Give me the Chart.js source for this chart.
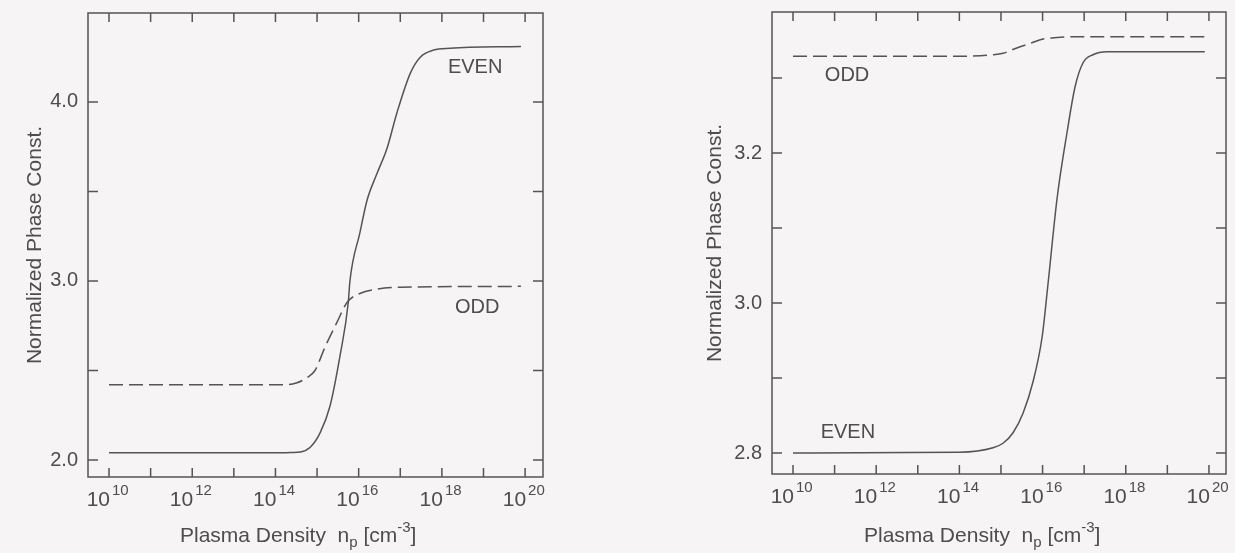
<!DOCTYPE html>
<html>
<head>
<meta charset="utf-8">
<script src="https://cdn.jsdelivr.net/npm/chart.js@4.4.1/dist/chart.umd.min.js"></script>
<style>
  html, body { margin: 0; padding: 0; background: #f6f4f4; }
  #wrap { position: relative; width: 1235px; height: 553px; overflow: hidden; }
  canvas { position: absolute; top: 0; }
</style>
</head>
<body>
<div id="wrap">
  <canvas id="leftChart" width="617" height="553" style="left:0"></canvas>
  <canvas id="rightChart" width="618" height="553" style="left:617px"></canvas>
</div>
<script>
// ================================
// DATA (x = log10 of plasma density)
// ================================
const leftEvenExp = [10, 14.0, 14.4, 14.6, 14.83, 15.07, 15.31, 15.55, 15.75, 15.79, 16.03, 16.2, 16.44, 16.68, 16.92, 17.24, 17.48, 17.8, 18.2, 19.9];
const leftEvenVal = [2.04, 2.04, 2.042, 2.045, 2.07, 2.15, 2.30, 2.58, 2.88, 3.0, 3.27, 3.45, 3.60, 3.74, 3.94, 4.16, 4.25, 4.29, 4.30, 4.31];

const leftOddExp = [10, 14.2, 14.5, 14.76, 14.95, 15.19, 15.48, 15.72, 16.03, 16.44, 17.0, 19.9];
const leftOddVal = [2.42, 2.42, 2.43, 2.46, 2.50, 2.63, 2.77, 2.88, 2.93, 2.955, 2.965, 2.97];

const rightEvenExp = [10, 14.0, 14.81, 15.05, 15.29, 15.53, 15.77, 15.99, 16.13, 16.35, 16.59, 16.78, 16.97, 17.21, 17.55, 19.9];
const rightEvenVal = [2.80, 2.801, 2.807, 2.813, 2.827, 2.853, 2.895, 2.955, 3.025, 3.14, 3.228, 3.288, 3.32, 3.331, 3.335, 3.335];

const rightOddExp = [10, 14.0, 14.81, 15.05, 15.38, 15.70, 16.01, 16.35, 16.83, 19.9];
const rightOddVal = [3.329, 3.329, 3.331, 3.333, 3.34, 3.346, 3.352, 3.354, 3.355, 3.355];

// ticks
const xTickExps = [10, 11, 12, 13, 14, 15, 16, 17, 18, 19, 20];
const xLabelExps = [10, 12, 14, 16, 18, 20];
const leftYTicks = [2.0, 2.5, 3.0, 3.5, 4.0];
const leftYLabels = [2.0, 3.0, 4.0];
const rightYTicks = [2.8, 2.9, 3.0, 3.1, 3.2, 3.3];
const rightYLabels = [2.8, 3.0, 3.2];

const INK = "#555353";
const TEXT = "#4e4c4c";
const FONT = "'Liberation Sans', Arial, sans-serif";

function toPoints(xs, ys) {
  return xs.map((x, i) => ({ x: x, y: ys[i] }));
}

// ================================
// FRAME / AXES PLUGIN
// ================================
const framePlugin = {
  id: "frame",
  afterDatasetsDraw(chart, args, opts) {
    const { ctx, chartArea: a, scales: { x, y } } = chart;
    ctx.save();

    // box
    ctx.strokeStyle = INK;
    ctx.lineWidth = 1.5;
    ctx.strokeRect(a.left, a.top, a.right - a.left, a.bottom - a.top);

    // inward ticks on all four sides
    ctx.beginPath();
    xTickExps.forEach(e => {
      const px = x.getPixelForValue(e);
      ctx.moveTo(px, a.bottom); ctx.lineTo(px, a.bottom - 9);
      ctx.moveTo(px, a.top); ctx.lineTo(px, a.top + 9);
    });
    opts.yTicks.forEach(v => {
      const py = y.getPixelForValue(v);
      ctx.moveTo(a.left, py); ctx.lineTo(a.left + 10, py);
      ctx.moveTo(a.right, py); ctx.lineTo(a.right - 10, py);
    });
    ctx.stroke();

    ctx.fillStyle = TEXT;

    // x tick labels 10^n
    ctx.textBaseline = "alphabetic";
    xLabelExps.forEach(e => {
      const px = x.getPixelForValue(e);
      ctx.font = "21px " + FONT;
      ctx.textAlign = "right";
      ctx.fillText("10", px + 1, a.bottom + 29);
      ctx.font = "15px " + FONT;
      ctx.textAlign = "left";
      ctx.fillText(String(e), px + 3, a.bottom + 18);
    });

    // y tick labels
    ctx.font = "20px " + FONT;
    ctx.textAlign = "right";
    ctx.textBaseline = "middle";
    opts.yLabels.forEach(v => {
      ctx.fillText(v.toFixed(1), a.left - 10, y.getPixelForValue(v));
    });

    // y title
    ctx.save();
    ctx.translate(a.left - opts.yTitleGap, (a.top + a.bottom) / 2);
    ctx.rotate(-Math.PI / 2);
    ctx.textAlign = "center";
    ctx.font = "21px " + FONT;
    ctx.fillText("Normalized Phase Const.", 0, 0);
    ctx.restore();

    // x title with sub/superscript
    const pieces = [
      { t: "Plasma Density  n", s: 21, dy: 0 },
      { t: "p", s: 15, dy: 5 },
      { t: " [cm", s: 21, dy: 0 },
      { t: "-3", s: 15, dy: -10 },
      { t: "]", s: 21, dy: 0 }
    ];
    let cx = a.left + 92;
    const base = opts.titleBase;
    ctx.textAlign = "left";
    ctx.textBaseline = "alphabetic";
    pieces.forEach(p => {
      ctx.font = p.s + "px " + FONT;
      ctx.fillText(p.t, cx, base + p.dy);
      cx += ctx.measureText(p.t).width;
    });

    // curve labels
    ctx.font = "20px " + FONT;
    ctx.textAlign = "center";
    ctx.textBaseline = "middle";
    opts.notes.forEach(n => {
      ctx.fillText(n.text, x.getPixelForValue(n.x), y.getPixelForValue(n.y));
    });

    ctx.restore();
  }
};

// ================================
// BUILD CHARTS
// ================================
function makeChart(id, c) {
  return new Chart(document.getElementById(id), {
    type: "line",
    data: {
      datasets: [
        {
          label: "EVEN",
          data: toPoints(c.evenExp, c.evenVal),
          borderColor: INK,
          borderWidth: 1.5,
          pointRadius: 0,
          cubicInterpolationMode: "monotone",
          fill: false
        },
        {
          label: "ODD",
          data: toPoints(c.oddExp, c.oddVal),
          borderColor: INK,
          borderWidth: 1.5,
          borderDash: [14, 6],
          pointRadius: 0,
          cubicInterpolationMode: "monotone",
          fill: false
        }
      ]
    },
    options: {
      responsive: false,
      animation: false,
      layout: { padding: c.padding },
      scales: {
        x: { type: "linear", display: false, min: c.xMin, max: c.xMax },
        y: { type: "linear", display: false, min: c.yMin, max: c.yMax }
      },
      plugins: {
        legend: { display: false },
        tooltip: { enabled: false },
        frame: {
          yTicks: c.yTicks,
          yLabels: c.yLabels,
          yTitleGap: c.yTitleGap,
          titleBase: 542,
          notes: c.notes
        }
      }
    },
    plugins: [framePlugin]
  });
}

makeChart("leftChart", {
  evenExp: leftEvenExp, evenVal: leftEvenVal,
  oddExp: leftOddExp, oddVal: leftOddVal,
  padding: { left: 88, top: 13, right: 74, bottom: 76 },
  xMin: 9.495, xMax: 20.43,
  yMin: 1.905, yMax: 4.497,
  yTicks: leftYTicks, yLabels: leftYLabels,
  yTitleGap: 53,
  notes: [
    { text: "EVEN", x: 18.8, y: 4.195 },
    { text: "ODD", x: 18.85, y: 2.85 }
  ]
});

makeChart("rightChart", {
  evenExp: rightEvenExp, evenVal: rightEvenVal,
  oddExp: rightOddExp, oddVal: rightOddVal,
  padding: { left: 155, top: 12, right: 9, bottom: 79 },
  xMin: 9.495, xMax: 20.41,
  yMin: 2.772, yMax: 3.388,
  yTicks: rightYTicks, yLabels: rightYLabels,
  yTitleGap: 57,
  notes: [
    { text: "ODD", x: 11.3, y: 3.303 },
    { text: "EVEN", x: 11.32, y: 2.828 }
  ]
});
</script>
</body>
</html>
